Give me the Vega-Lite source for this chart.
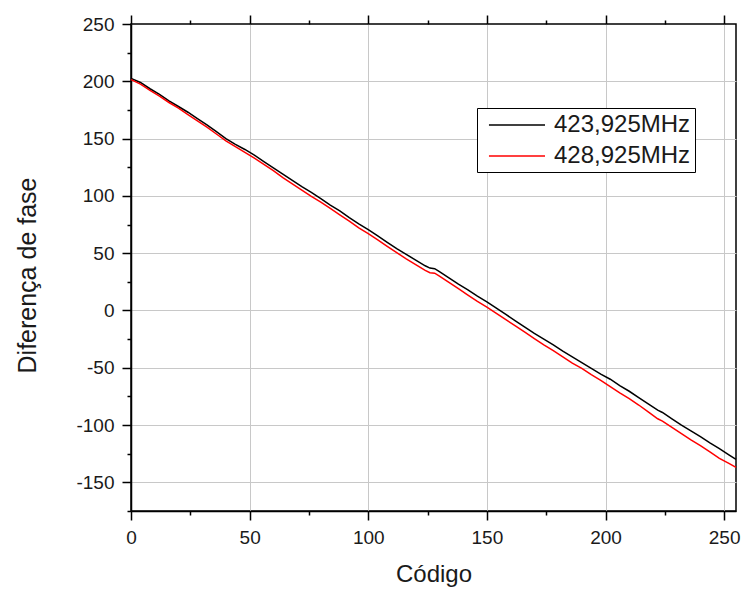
{
  "$schema": "https://vega.github.io/schema/vega-lite/v6.json",
  "autosize": "none",
  "width": 605,
  "height": 487,
  "padding": {"left": 131, "top": 24, "right": 6, "bottom": 79},
  "background": "white",
  "config": {
    "view": {"stroke": "#000000", "strokeWidth": 1.5},
    "font": "Liberation Sans",
    "axis": {"labelFont": "Liberation Sans", "titleFont": "Liberation Sans", "labelColor": "#1a1a1a", "titleColor": "#1a1a1a", "titleFontWeight": "normal", "domainColor": "#000000", "domainWidth": 1.5, "tickColor": "#000000", "tickWidth": 1.5, "gridColor": "#c8c8c8", "gridWidth": 1}
  },
  "data": {"values": [
    {"code": 0, "phase": 202.5, "series": "423,925MHz"},
    {"code": 4, "phase": 199, "series": "423,925MHz"},
    {"code": 8, "phase": 193.5, "series": "423,925MHz"},
    {"code": 12, "phase": 188.5, "series": "423,925MHz"},
    {"code": 16, "phase": 183, "series": "423,925MHz"},
    {"code": 20, "phase": 178, "series": "423,925MHz"},
    {"code": 24, "phase": 173, "series": "423,925MHz"},
    {"code": 28, "phase": 167.5, "series": "423,925MHz"},
    {"code": 32, "phase": 162, "series": "423,925MHz"},
    {"code": 36, "phase": 156, "series": "423,925MHz"},
    {"code": 40, "phase": 150, "series": "423,925MHz"},
    {"code": 44, "phase": 145, "series": "423,925MHz"},
    {"code": 48, "phase": 140.5, "series": "423,925MHz"},
    {"code": 52, "phase": 135.5, "series": "423,925MHz"},
    {"code": 56, "phase": 130, "series": "423,925MHz"},
    {"code": 60, "phase": 124.5, "series": "423,925MHz"},
    {"code": 64, "phase": 119, "series": "423,925MHz"},
    {"code": 68, "phase": 113.5, "series": "423,925MHz"},
    {"code": 72, "phase": 108, "series": "423,925MHz"},
    {"code": 76, "phase": 103, "series": "423,925MHz"},
    {"code": 80, "phase": 97.5, "series": "423,925MHz"},
    {"code": 84, "phase": 92, "series": "423,925MHz"},
    {"code": 88, "phase": 87, "series": "423,925MHz"},
    {"code": 92, "phase": 81, "series": "423,925MHz"},
    {"code": 96, "phase": 75.5, "series": "423,925MHz"},
    {"code": 100, "phase": 70.5, "series": "423,925MHz"},
    {"code": 104, "phase": 65, "series": "423,925MHz"},
    {"code": 108, "phase": 59.5, "series": "423,925MHz"},
    {"code": 112, "phase": 54, "series": "423,925MHz"},
    {"code": 116, "phase": 49, "series": "423,925MHz"},
    {"code": 120, "phase": 44, "series": "423,925MHz"},
    {"code": 124, "phase": 39, "series": "423,925MHz"},
    {"code": 126, "phase": 37, "series": "423,925MHz"},
    {"code": 128, "phase": 36.5, "series": "423,925MHz"},
    {"code": 130, "phase": 34, "series": "423,925MHz"},
    {"code": 134, "phase": 28.5, "series": "423,925MHz"},
    {"code": 138, "phase": 23, "series": "423,925MHz"},
    {"code": 142, "phase": 18, "series": "423,925MHz"},
    {"code": 146, "phase": 12.5, "series": "423,925MHz"},
    {"code": 150, "phase": 7.5, "series": "423,925MHz"},
    {"code": 154, "phase": 2, "series": "423,925MHz"},
    {"code": 158, "phase": -3.5, "series": "423,925MHz"},
    {"code": 162, "phase": -9, "series": "423,925MHz"},
    {"code": 166, "phase": -14.5, "series": "423,925MHz"},
    {"code": 170, "phase": -20, "series": "423,925MHz"},
    {"code": 174, "phase": -25, "series": "423,925MHz"},
    {"code": 178, "phase": -30, "series": "423,925MHz"},
    {"code": 182, "phase": -35.5, "series": "423,925MHz"},
    {"code": 186, "phase": -40.5, "series": "423,925MHz"},
    {"code": 190, "phase": -45.5, "series": "423,925MHz"},
    {"code": 194, "phase": -50.5, "series": "423,925MHz"},
    {"code": 198, "phase": -55.5, "series": "423,925MHz"},
    {"code": 202, "phase": -60, "series": "423,925MHz"},
    {"code": 206, "phase": -65.5, "series": "423,925MHz"},
    {"code": 210, "phase": -70.5, "series": "423,925MHz"},
    {"code": 214, "phase": -76, "series": "423,925MHz"},
    {"code": 218, "phase": -81.5, "series": "423,925MHz"},
    {"code": 222, "phase": -87, "series": "423,925MHz"},
    {"code": 224, "phase": -89, "series": "423,925MHz"},
    {"code": 228, "phase": -94.5, "series": "423,925MHz"},
    {"code": 232, "phase": -100, "series": "423,925MHz"},
    {"code": 236, "phase": -105, "series": "423,925MHz"},
    {"code": 240, "phase": -110, "series": "423,925MHz"},
    {"code": 244, "phase": -115.5, "series": "423,925MHz"},
    {"code": 248, "phase": -120.5, "series": "423,925MHz"},
    {"code": 252, "phase": -126, "series": "423,925MHz"},
    {"code": 255, "phase": -130, "series": "423,925MHz"},
    {"code": 0, "phase": 201.5, "series": "428,925MHz"},
    {"code": 4, "phase": 197.5, "series": "428,925MHz"},
    {"code": 8, "phase": 192, "series": "428,925MHz"},
    {"code": 12, "phase": 187, "series": "428,925MHz"},
    {"code": 16, "phase": 181.5, "series": "428,925MHz"},
    {"code": 20, "phase": 176.5, "series": "428,925MHz"},
    {"code": 24, "phase": 171, "series": "428,925MHz"},
    {"code": 28, "phase": 165.5, "series": "428,925MHz"},
    {"code": 32, "phase": 160, "series": "428,925MHz"},
    {"code": 36, "phase": 154, "series": "428,925MHz"},
    {"code": 40, "phase": 148, "series": "428,925MHz"},
    {"code": 44, "phase": 143, "series": "428,925MHz"},
    {"code": 48, "phase": 138, "series": "428,925MHz"},
    {"code": 52, "phase": 133, "series": "428,925MHz"},
    {"code": 56, "phase": 127.5, "series": "428,925MHz"},
    {"code": 60, "phase": 122, "series": "428,925MHz"},
    {"code": 64, "phase": 116, "series": "428,925MHz"},
    {"code": 68, "phase": 110.5, "series": "428,925MHz"},
    {"code": 72, "phase": 105, "series": "428,925MHz"},
    {"code": 76, "phase": 99.5, "series": "428,925MHz"},
    {"code": 80, "phase": 94.5, "series": "428,925MHz"},
    {"code": 84, "phase": 89, "series": "428,925MHz"},
    {"code": 88, "phase": 83.5, "series": "428,925MHz"},
    {"code": 92, "phase": 78, "series": "428,925MHz"},
    {"code": 96, "phase": 72, "series": "428,925MHz"},
    {"code": 100, "phase": 67, "series": "428,925MHz"},
    {"code": 104, "phase": 61.5, "series": "428,925MHz"},
    {"code": 108, "phase": 56, "series": "428,925MHz"},
    {"code": 112, "phase": 50.5, "series": "428,925MHz"},
    {"code": 116, "phase": 45, "series": "428,925MHz"},
    {"code": 120, "phase": 40, "series": "428,925MHz"},
    {"code": 124, "phase": 35, "series": "428,925MHz"},
    {"code": 126, "phase": 33, "series": "428,925MHz"},
    {"code": 128, "phase": 32.5, "series": "428,925MHz"},
    {"code": 130, "phase": 30, "series": "428,925MHz"},
    {"code": 134, "phase": 24.5, "series": "428,925MHz"},
    {"code": 138, "phase": 19, "series": "428,925MHz"},
    {"code": 142, "phase": 13.5, "series": "428,925MHz"},
    {"code": 146, "phase": 8, "series": "428,925MHz"},
    {"code": 150, "phase": 3, "series": "428,925MHz"},
    {"code": 154, "phase": -2.5, "series": "428,925MHz"},
    {"code": 158, "phase": -8, "series": "428,925MHz"},
    {"code": 162, "phase": -13.5, "series": "428,925MHz"},
    {"code": 166, "phase": -19, "series": "428,925MHz"},
    {"code": 170, "phase": -24.5, "series": "428,925MHz"},
    {"code": 174, "phase": -30, "series": "428,925MHz"},
    {"code": 178, "phase": -35, "series": "428,925MHz"},
    {"code": 182, "phase": -40.5, "series": "428,925MHz"},
    {"code": 186, "phase": -46, "series": "428,925MHz"},
    {"code": 190, "phase": -50.5, "series": "428,925MHz"},
    {"code": 194, "phase": -56, "series": "428,925MHz"},
    {"code": 198, "phase": -61, "series": "428,925MHz"},
    {"code": 202, "phase": -66.5, "series": "428,925MHz"},
    {"code": 206, "phase": -72, "series": "428,925MHz"},
    {"code": 210, "phase": -77, "series": "428,925MHz"},
    {"code": 214, "phase": -82.5, "series": "428,925MHz"},
    {"code": 218, "phase": -88.5, "series": "428,925MHz"},
    {"code": 222, "phase": -94.5, "series": "428,925MHz"},
    {"code": 224, "phase": -96.5, "series": "428,925MHz"},
    {"code": 228, "phase": -102, "series": "428,925MHz"},
    {"code": 232, "phase": -107.5, "series": "428,925MHz"},
    {"code": 236, "phase": -113, "series": "428,925MHz"},
    {"code": 240, "phase": -118, "series": "428,925MHz"},
    {"code": 244, "phase": -123.5, "series": "428,925MHz"},
    {"code": 248, "phase": -129, "series": "428,925MHz"},
    {"code": 252, "phase": -133.5, "series": "428,925MHz"},
    {"code": 255, "phase": -137, "series": "428,925MHz"}
  ]},
  "resolve": {"axis": {"x": "independent", "y": "independent"}},
  "layer": [
    {
      "mark": {"type": "line", "strokeWidth": 1.5},
      "encoding": {
        "x": {"field": "code", "type": "quantitative", "title": "Código",
          "scale": {"domain": [0, 255], "nice": false, "zero": false},
          "axis": {"orient": "bottom", "values": [0, 25, 50, 75, 100, 125, 150, 175, 200, 225, 250],
            "labelExpr": "datum.value % 50 === 0 ? '' + datum.value : ''", "labelFlush": false,
            "tickSize": {"condition": {"test": "datum.value % 50 === 0", "value": 9}, "value": 4},
            "gridOpacity": {"condition": {"test": "datum.value % 50 === 0", "value": 1}, "value": 0},
            "labelFontSize": 19, "labelPadding": 8, "titleFontSize": 24, "titlePadding": 15}},
        "y": {"field": "phase", "type": "quantitative", "title": "Diferença de fase",
          "scale": {"domain": [-175, 250], "nice": false, "zero": false},
          "axis": {"orient": "left", "values": [-175, -150, -125, -100, -75, -50, -25, 0, 25, 50, 75, 100, 125, 150, 175, 200, 225, 250],
            "labelExpr": "datum.value % 50 === 0 ? '' + datum.value : ''", "labelFlush": false,
            "tickSize": {"condition": {"test": "datum.value % 50 === 0", "value": 9}, "value": 4},
            "gridOpacity": {"condition": {"test": "datum.value % 50 === 0 && datum.value < 250", "value": 1}, "value": 0},
            "labelFontSize": 19, "labelPadding": 8, "titleFontSize": 25,
            "titleX": -104, "titleY": 251, "titleBaseline": "middle"}},
        "color": {"field": "series", "type": "nominal",
          "scale": {"domain": ["423,925MHz", "428,925MHz"], "range": ["#000000", "#ff0000"]},
          "legend": {"title": null, "orient": "none", "legendX": 346, "legendY": 84,
            "strokeColor": "#000000", "fillColor": "#ffffff", "padding": 4,
            "symbolType": "M-0.42,0H4.25", "symbolSize": 576, "symbolStrokeWidth": 1.5,
            "labelFontSize": 24, "labelFont": "Liberation Sans", "labelColor": "#1a1a1a", "labelOffset": 47, "rowPadding": 6}}
      }
    },
    {
      "mark": {"type": "line", "opacity": 0},
      "encoding": {
        "x": {"field": "code", "type": "quantitative",
          "axis": {"orient": "top", "values": [0, 25, 50, 75, 100, 125, 150, 175, 200, 225, 250],
            "labels": false, "grid": false, "domain": false, "title": null,
            "tickSize": {"condition": {"test": "datum.value % 50 === 0", "value": 9}, "value": 4}}},
        "y": {"field": "phase", "type": "quantitative", "axis": null}
      }
    }
  ]
}
